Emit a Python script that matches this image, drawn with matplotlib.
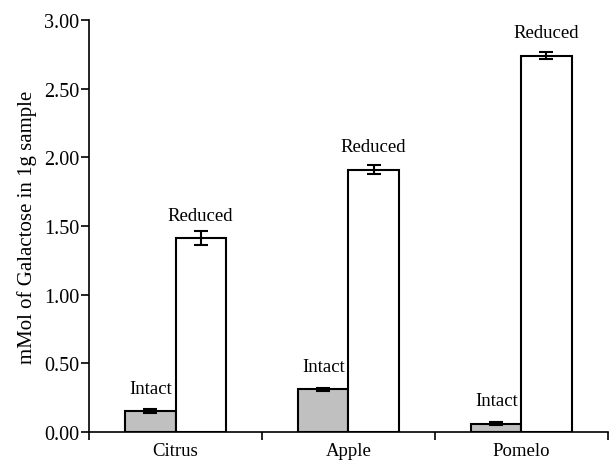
import matplotlib
matplotlib.use("Agg")
import matplotlib.pyplot as plt
import numpy as np

categories = ["Citrus", "Apple", "Pomelo"]
intact = [0.15, 0.31, 0.06]
intact_err = [0.015, 0.01, 0.01]
reduced = [1.41, 1.91, 2.74]
reduced_err = [0.05, 0.03, 0.025]
series_labels = ["Intact", "Reduced"]
yticks = [0.0, 0.5, 1.0, 1.5, 2.0, 2.5, 3.0]

plt.rcParams['font.family'] = ['Liberation Serif', 'DejaVu Serif']

fig = plt.figure(figsize=(6.14, 4.64), dpi=100)
ax = fig.add_axes([0.145, 0.067, 0.845, 0.888])

x = np.arange(len(categories)) + 0.5
w = 0.29
ekw = dict(ecolor="black", elinewidth=1.5, capsize=5, capthick=1.5)
b1 = ax.bar(x - w / 2, intact, w, color="#c0c0c0", edgecolor="black", linewidth=1.5,
            yerr=intact_err, error_kw=ekw)
b2 = ax.bar(x + w / 2, reduced, w, color="white", edgecolor="black", linewidth=1.5,
            yerr=reduced_err, error_kw=ekw)

for bars, vals, lab in [(b1, intact, series_labels[0]), (b2, reduced, series_labels[1])]:
    for rect, v in zip(bars, vals):
        ax.annotate(lab, (rect.get_x() + rect.get_width() / 2, v), xytext=(0, 23),
                    textcoords="offset pixels", ha="center", va="center", fontsize=13.5)

ax.set_xlim(0, 3)
ax.set_ylim(0, 3.0)
ax.set_yticks(yticks)
ax.set_yticklabels([f"{t:.2f}" for t in yticks], fontsize=14.5)
ax.set_xticks([0, 1, 2, 3])
ax.set_xticklabels([])
ax.set_xticks(x, minor=True)
ax.set_xticklabels(categories, minor=True, fontsize=13.5)
ax.tick_params(axis="x", which="minor", length=0, pad=7)
ax.tick_params(axis="x", which="major", length=6, width=1.2, direction="out")
ax.tick_params(axis="y", length=6, width=1.2, direction="out", pad=1)
ax.spines["top"].set_visible(False)
ax.spines["right"].set_visible(False)
ax.spines["left"].set_linewidth(1.2)
ax.spines["bottom"].set_linewidth(1.2)
ax.set_ylabel("mMol of Galactose in 1g sample", fontsize=15, labelpad=5)

fig.savefig("out.png", dpi=100)
